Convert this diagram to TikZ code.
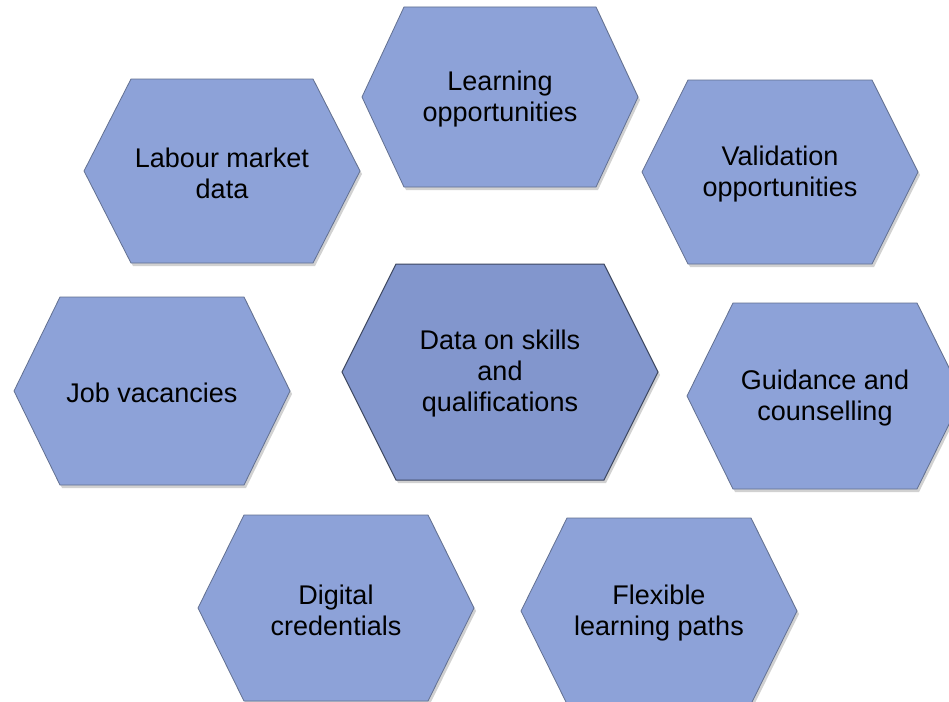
\documentclass[tikz,border=0pt]{standalone}
\usepackage{fontspec}
\setmainfont{Liberation Sans}
\definecolor{hexfill}{RGB}{141,162,216}
\definecolor{hexfillc}{RGB}{130,150,205}
\definecolor{hexline}{RGB}{98,112,145}
\definecolor{hexlinec}{RGB}{60,70,95}
\tikzset{
  hexshape/.style={fill=hexfill, draw=hexline, line width=0.8pt, line join=miter},
  hexcentre/.style={fill=hexfillc, draw=hexlinec, line width=1pt, line join=miter},
  hexshadow/.style={fill=black, opacity=0.18},
  hextext/.style={align=center, font=\fontsize{27}{31}\selectfont, text=black, inner sep=0pt}
}
% name, cx, cy, half width, half height, inset, style, text
\newcommand\hexnode[8]{%
  \fill[hexshadow] ({#2-#4+2},{#3+3}) -- ({#2-#4+#6+2},{#3-#5+3}) -- ({#2+#4-#6+2},{#3-#5+3}) -- ({#2+#4+2},{#3+3}) -- ({#2+#4-#6+2},{#3+#5+3}) -- ({#2-#4+#6+2},{#3+#5+3}) -- cycle;
  \draw[#7] ({#2-#4},{#3}) -- ({#2-#4+#6},{#3-#5}) -- ({#2+#4-#6},{#3-#5}) -- ({#2+#4},{#3}) -- ({#2+#4-#6},{#3+#5}) -- ({#2-#4+#6},{#3+#5}) -- cycle;
  \node[hextext] (#1) at (#2,{#3+2}) {#8};
}
\begin{document}
\begin{tikzpicture}[x=1pt,y=-1pt]
\useasboundingbox (0,0) rectangle (949,701);
\clip (0,0) rectangle (949,701);
\fill[white] (0,0) rectangle (949,701);
\hexnode{learn}{500}{97}{138}{90}{42}{hexshape}{Learning\\opportunities}
\hexnode{labour}{222}{171}{138}{92}{47}{hexshape}{Labour market\\data}
\hexnode{valid}{780}{172}{138}{92}{46}{hexshape}{Validation\\opportunities}
\hexnode{jobs}{152}{391}{138}{94}{46}{hexshape}{Job vacancies}
\hexnode{centre}{500}{372}{158}{108}{54}{hexcentre}{Data on skills\\and\\qualifications}
\hexnode{guide}{825}{396}{138}{93}{46}{hexshape}{Guidance and\\counselling}
\hexnode{digital}{336}{608}{138}{93}{46}{hexshape}{Digital\\credentials}
\hexnode{flex}{659}{611}{138}{93}{46}{hexshape}{Flexible\\learning paths}
\end{tikzpicture}
\end{document}
